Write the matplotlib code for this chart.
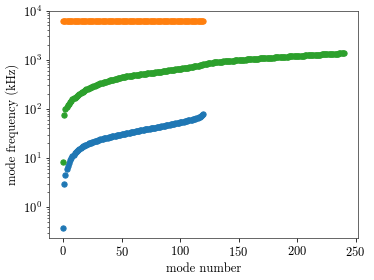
import matplotlib
matplotlib.use("Agg")
import matplotlib.pyplot as plt
import numpy as np

plt.rcParams['font.family'] = 'serif'
plt.rcParams['font.serif'] = ['cmr10']
plt.rcParams['mathtext.fontset'] = 'cm'
plt.rcParams['axes.formatter.use_mathtext'] = True
plt.rcParams['axes.unicode_minus'] = False
plt.rcParams['font.size'] = 12.5

# sorted mode frequencies (kHz)
blue = [0.38, 3.0, 4.5, 6.0, 7.0, 8.0, 9.0, 9.9, 10.8, 11.7,
        12.5, 13.2, 13.9, 14.6, 15.3, 16.0, 16.6, 17.2, 17.7, 18.2,
        18.7, 19.2, 19.7, 20.1, 20.5, 20.9, 21.3, 21.7, 22.1, 22.5,
        22.9, 23.5, 23.9, 24.2, 24.6, 24.9, 25.3, 25.6, 26.0, 26.3,
        26.7, 27.0, 27.4, 27.7, 28.1, 28.4, 28.8, 29.1, 29.5, 29.8,
        30.2, 30.5, 30.9, 31.2, 31.6, 32.0, 32.4, 32.8, 33.2, 33.6,
        34.0, 34.4, 34.8, 35.2, 35.6, 36.0, 36.4, 36.8, 37.2, 37.6,
        38.0, 38.4, 38.8, 39.2, 39.6, 40.0, 40.4, 40.8, 41.2, 41.6,
        42.0, 42.5, 43.0, 43.5, 44.0, 44.5, 45.0, 45.6, 46.1, 46.7,
        47.2, 47.8, 48.3, 48.9, 49.5, 50.1, 50.7, 51.3, 51.9, 52.5,
        53.1, 53.8, 54.4, 55.1, 55.8, 56.5, 57.2, 58.0, 58.8, 59.6,
        60.5, 61.4, 62.4, 63.5, 64.7, 66.0, 67.5, 69.2, 71.2, 74.0,
        78.0]

orange = [6150, 6150, 6155, 6150, 6160, 6155, 6150, 6160, 6155, 6150,
          6160, 6155, 6160, 6150, 6155, 6160, 6150, 6155, 6160, 6155,
          6150, 6160, 6155, 6150, 6160, 6155, 6160, 6150, 6155, 6160,
          6150, 6155, 6160, 6155, 6150, 6160, 6155, 6150, 6160, 6155,
          6160, 6150, 6155, 6160, 6150, 6155, 6160, 6155, 6150, 6160,
          6155, 6150, 6160, 6155, 6160, 6150, 6155, 6160, 6150, 6155,
          6160, 6155, 6150, 6160, 6155, 6150, 6160, 6155, 6160, 6150,
          6155, 6160, 6150, 6155, 6160, 6155, 6150, 6160, 6155, 6150,
          6160, 6155, 6160, 6150, 6155, 6160, 6150, 6155, 6160, 6155,
          6150, 6160, 6155, 6150, 6160, 6155, 6160, 6150, 6155, 6160,
          6150, 6155, 6160, 6155, 6150, 6160, 6155, 6150, 6160, 6155,
          6160, 6150, 6155, 6160, 6150, 6155, 6160, 6155, 6150, 6160,
          6155]

green = [8.1, 75, 100, 108, 117, 127, 136, 146, 155, 163,
         170, 178, 186, 193, 201, 208, 216, 224, 232, 240,
         248, 255, 262, 269, 276, 283, 290, 297, 304, 311,
         317, 324, 330, 336, 342, 348, 354, 360, 366, 372,
         378, 384, 390, 395, 401, 407, 413, 418, 424, 430,
         435, 441, 446, 452, 458, 462, 466, 469, 473, 477,
         480, 484, 488, 492, 495, 499, 503, 507, 511, 515,
         519, 522, 526, 530, 534, 538, 542, 545, 549, 553,
         557, 560, 564, 569, 574, 579, 584, 589, 594, 599,
         604, 609, 614, 619, 624, 629, 634, 639, 644, 649,
         654, 659, 664, 669, 674, 680, 687, 694, 701, 708,
         715, 722, 729, 736, 743, 750, 760, 771, 782, 794,
         806, 816, 826, 835, 844, 853, 861, 869, 876, 882,
         888, 894, 899, 904, 909, 914, 919, 924, 929, 934,
         939, 943, 947, 951, 956, 960, 964, 968, 973, 977,
         982, 986, 990, 995, 999, 1003, 1008, 1012, 1016, 1021,
         1025, 1029, 1034, 1038, 1042, 1047, 1051, 1056, 1060, 1064,
         1068, 1073, 1077, 1081, 1085, 1089, 1094, 1098, 1102, 1106,
         1110, 1115, 1119, 1123, 1127, 1131, 1136, 1140, 1144, 1148,
         1153, 1157, 1161, 1165, 1169, 1174, 1178, 1182, 1186, 1190,
         1194, 1198, 1203, 1207, 1211, 1215, 1219, 1223, 1227, 1232,
         1236, 1240, 1244, 1248, 1252, 1256, 1261, 1265, 1269, 1273,
         1277, 1281, 1285, 1290, 1294, 1298, 1302, 1306, 1310, 1314,
         1319, 1323, 1327, 1331, 1335, 1339, 1343, 1348, 1352, 1356,
         1360]

fig = plt.figure(figsize=(374/72, 280/72), dpi=72)
ax = fig.add_subplot(111)
fig.subplots_adjust(left=0.131, right=0.957, bottom=0.15, top=0.962)

for vals in [blue, orange, green]:
    ax.scatter(np.arange(len(vals)), vals, s=28)

ax.set_yscale('log')
ax.set_xlabel('mode number')
ax.set_ylabel('mode frequency (kHz)')
for sp in ax.spines.values():
    sp.set_color('#444444')

fig.savefig('out.png', dpi=72)
